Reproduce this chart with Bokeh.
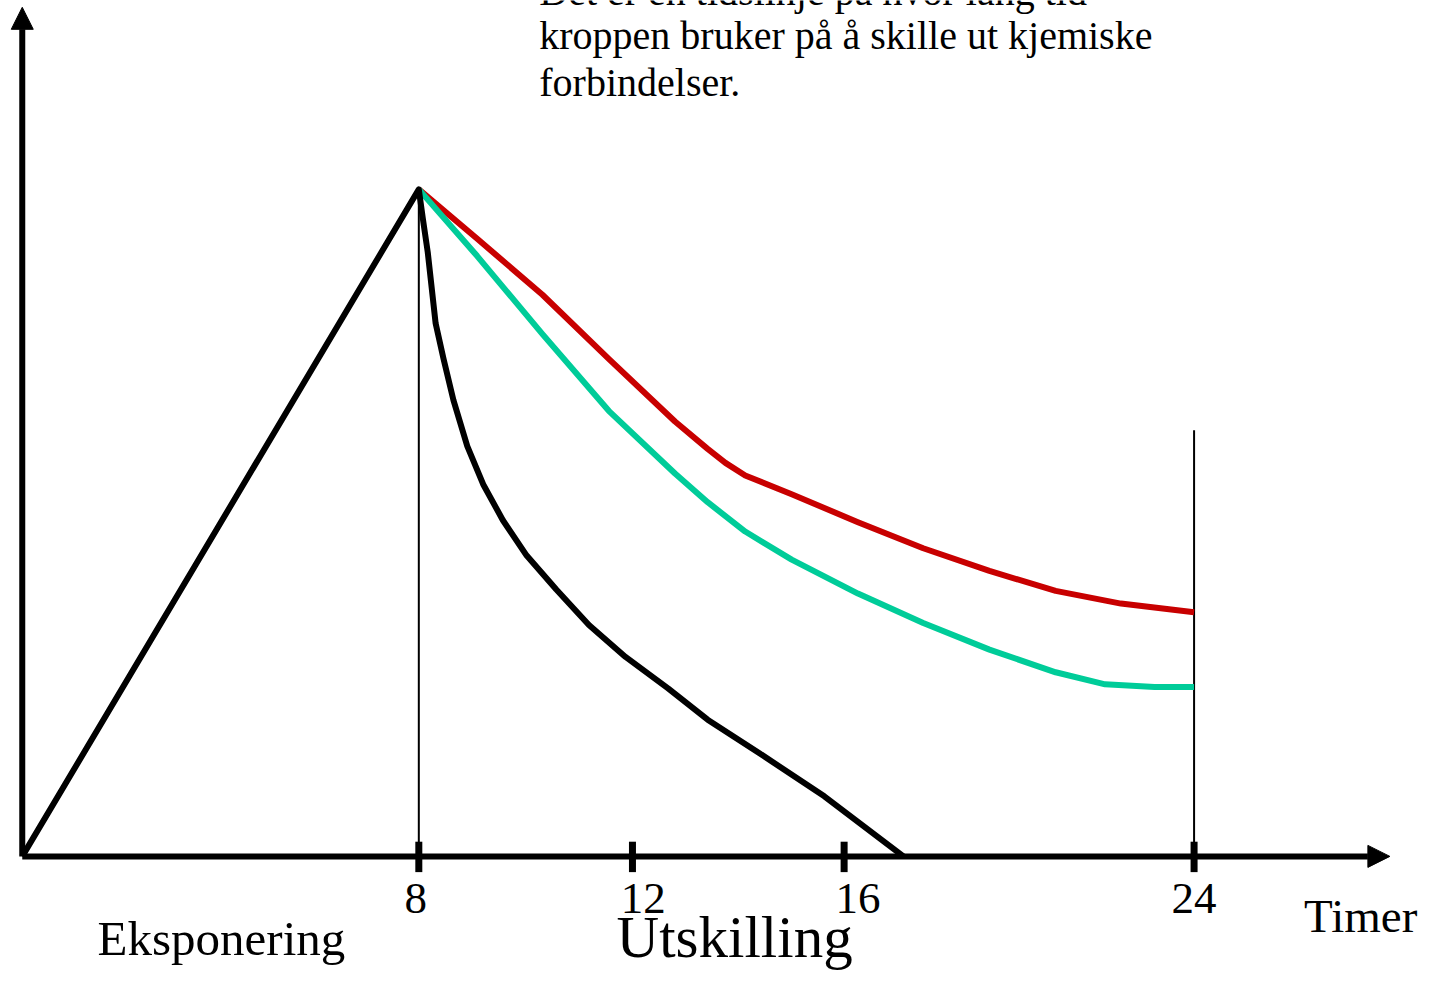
import numpy as np
from bokeh.plotting import figure
from bokeh.models import Range1d, Arrow, NormalHead
from bokeh.core.properties import value
from bokeh.embed import file_html
from bokeh.resources import INLINE

# ---------------- data ----------------
# The drawn time axis is not evenly spaced: hours -> axis position
AXIS_HOURS = [0, 8, 12, 16, 24]
AXIS_POS = [0, 8, 12.31, 16.58, 23.64]

TICK_HOURS = [8, 12, 16, 24]
TICK_LABELS = ["8", "12", "16", "24"]

# black curve: exposure (0-8 h) then fast excretion
BLACK_H = [0, 8, 8.074, 8.167, 8.315, 8.463, 8.648, 8.907, 9.204, 9.574, 10.019,
           10.574, 11.185, 11.870, 12.673, 13.421, 14.393, 15.626, 17.356]
BLACK_C = [0, 100, 95.7, 90.6, 79.9, 74.6, 68.4, 61.5, 55.8, 50.4, 45.1,
           40.0, 34.7, 29.9, 25.2, 20.5, 15.5, 9.0, 0]

# red curve: slow excretion
RED_H = [8, 9.093, 10.315, 11.556, 12.804, 13.421, 13.757, 14.131, 15.009,
         16.316, 17.808, 19.322, 20.836, 22.328, 24]
RED_C = [100, 92.6, 84.2, 74.6, 65.2, 61.1, 59.0, 57.1, 54.3,
         50.1, 46.2, 42.8, 39.8, 37.9, 36.6]

# green curve: medium excretion
TEAL_H = [8, 9.093, 10.315, 11.556, 12.804, 13.421, 14.131, 15.009, 16.316,
          17.808, 19.322, 20.836, 21.966, 23.096, 24]
TEAL_C = [100, 90.0, 78.3, 66.8, 57.4, 53.1, 48.7, 44.5, 39.4,
          35.0, 31.0, 27.6, 25.8, 25.4, 25.4]

# vertical guide lines
GUIDE_H = [8, 24]
GUIDE_TOP = [100, 63.9]

NOTE_LINES = ["Det er en tidslinje på hvor lang tid",
              "kroppen bruker på å skille ut kjemiske",
              "forbindelser."]

FONT = value("Liberation Serif")


def warp(h):
    return np.interp(np.asarray(h, dtype=float), AXIS_HOURS, AXIS_POS)


def txt(p, x, y, text, size, align="left"):
    # shift compensates for where the text's alphabetic baseline lands
    p.text(x=x, y=y, text=text, text_font=FONT, text_font_size=f"{size}px",
           text_align=align, text_baseline="alphabetic", text_color="black",
           y_offset=-round(0.34 * size))


# ---------------- figure ----------------
p = figure(width=1427, height=970,
           x_range=Range1d(-0.439, 28.349), y_range=Range1d(-17.11, 128.32),
           min_border=0, toolbar_location=None, output_backend="svg",
           outline_line_color=None, background_fill_color="white",
           border_fill_color="white")
p.xaxis.visible = False
p.yaxis.visible = False
p.xgrid.visible = False
p.ygrid.visible = False

# guides
gx = warp(GUIDE_H)
p.segment(x0=gx, y0=[0, 0], x1=gx, y1=GUIDE_TOP, line_color="black", line_width=2)

# curves
p.line(warp(RED_H), RED_C, line_color="#C80000", line_width=6, line_join="round")
p.line(warp(TEAL_H), TEAL_C, line_color="#00CC99", line_width=6, line_join="round")
p.line(warp(BLACK_H), BLACK_C, line_color="black", line_width=6, line_join="round")

# axes with arrows
p.add_layout(Arrow(end=NormalHead(size=22, fill_color="black", line_color="black", line_width=1),
                   x_start=0, y_start=0, x_end=0, y_end=127.3,
                   line_color="black", line_width=6))
p.add_layout(Arrow(end=NormalHead(size=22, fill_color="black", line_color="black", line_width=1),
                   x_start=0, y_start=0, x_end=27.59, y_end=0,
                   line_color="black", line_width=6))

# ticks
tx = warp(TICK_HOURS)
p.segment(x0=tx, y0=[-2.36] * len(tx), x1=tx, y1=[2.2] * len(tx),
          line_color="black", line_width=7)
label_shift = np.array([-0.06, 0.22, 0.28, 0.0])  # labels sit a little right of 12 and 16
txt(p, tx + label_shift, [-8.6] * len(tx), TICK_LABELS, 45, align="center")

# axis / phase labels
txt(p, [25.86], [-11.4], ["Timer"], 47)
txt(p, [1.52], [-14.9], ["Eksponering"], 49)
txt(p, [11.99], [-15.1], ["Utskilling"], 59)

# note text
txt(p, [10.43] * 3, [127.6, 120.9, 114.0], NOTE_LINES, 40)

open("out.html", "w").write(file_html(p, INLINE))
